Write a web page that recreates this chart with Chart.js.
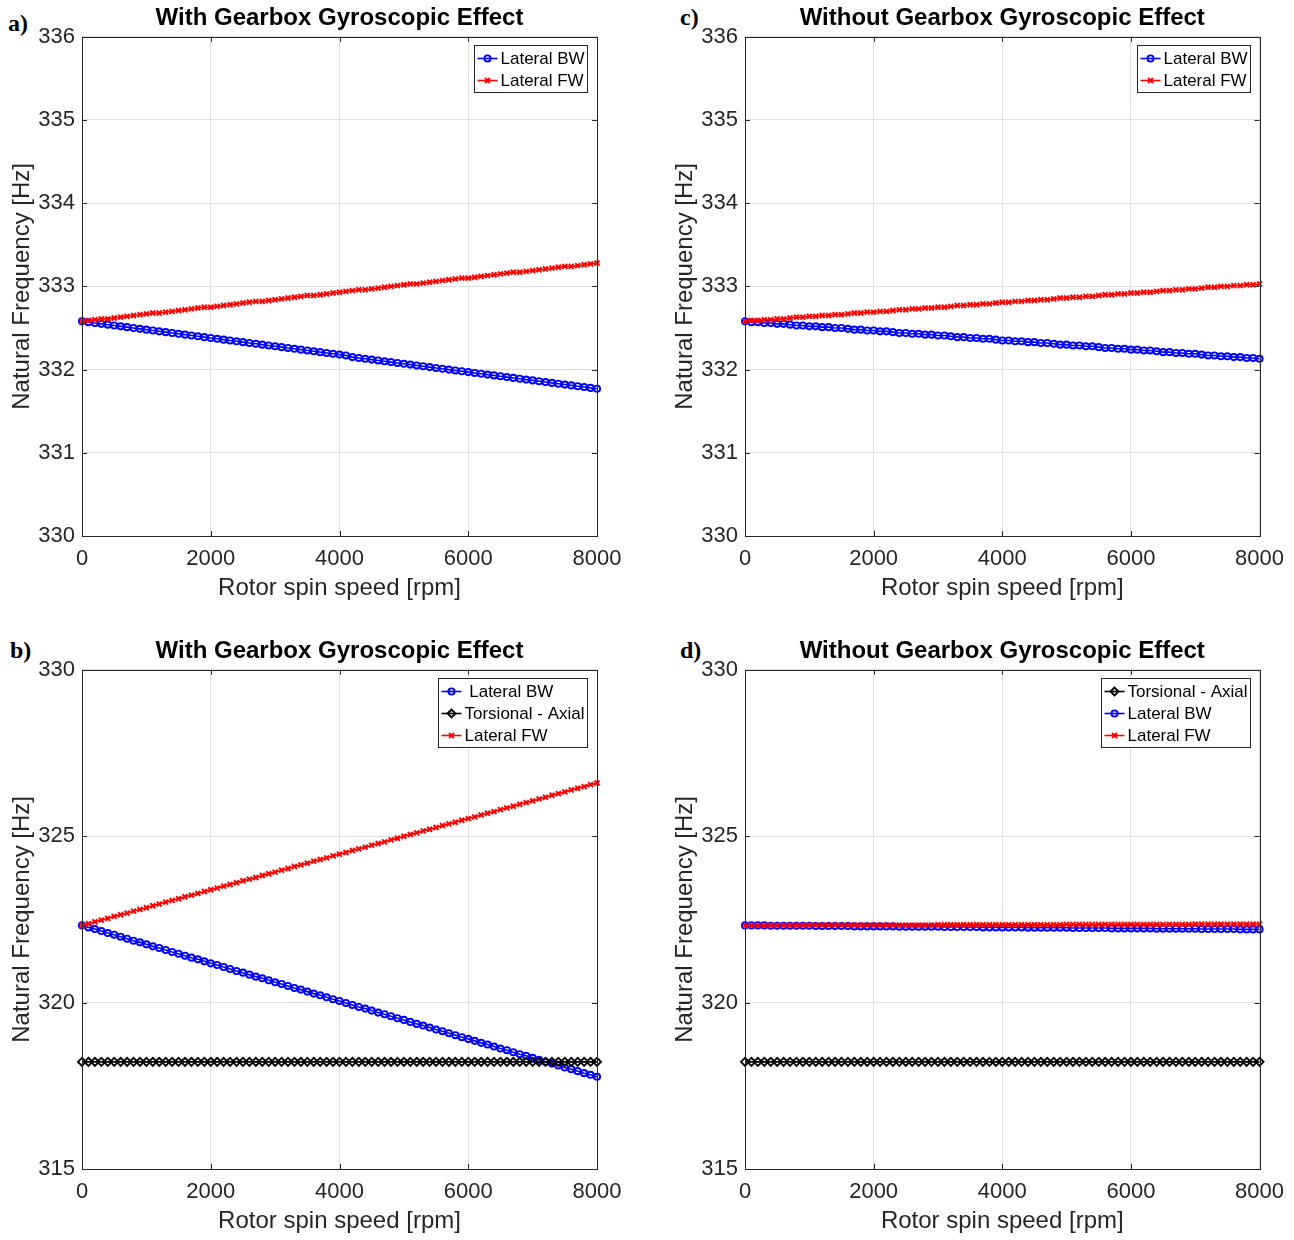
<!DOCTYPE html>
<html>
<head>
<meta charset="utf-8">
<script src="https://cdn.jsdelivr.net/npm/chart.js@4.4.1/dist/chart.umd.min.js"></script>
<style>
    body { margin: 0; background: #fff; width: 1294px; height: 1240px; position: relative; overflow: hidden; }
    canvas { position: absolute; }
    .tag { position: absolute; font-family: "Liberation Serif", "Times New Roman", serif; font-weight: bold; font-size: 24px; color: #000; line-height: 1; }
</style>
</head>
<body>
<div class="tag" style="left:8px;top:11px">a)</div>
<div class="tag" style="left:680px;top:5px">c)</div>
<div class="tag" style="left:10px;top:638px">b)</div>
<div class="tag" style="left:680px;top:638px">d)</div>

<canvas id="chartA" width="647" height="603" style="left:0;top:0"></canvas>
<canvas id="chartC" width="631" height="603" style="left:663px;top:0"></canvas>
<canvas id="chartB" width="647" height="603" style="left:0;top:633px"></canvas>
<canvas id="chartD" width="631" height="603" style="left:663px;top:633px"></canvas>

<script>
(function () {
    'use strict';

    // rotor spin speed [rpm], sampled every 100 rpm
    var rpm = [
        0, 100, 200, 300, 400, 500, 600, 700, 800, 900,
        1000, 1100, 1200, 1300, 1400, 1500, 1600, 1700, 1800, 1900,
        2000, 2100, 2200, 2300, 2400, 2500, 2600, 2700, 2800, 2900,
        3000, 3100, 3200, 3300, 3400, 3500, 3600, 3700, 3800, 3900,
        4000, 4100, 4200, 4300, 4400, 4500, 4600, 4700, 4800, 4900,
        5000, 5100, 5200, 5300, 5400, 5500, 5600, 5700, 5800, 5900,
        6000, 6100, 6200, 6300, 6400, 6500, 6600, 6700, 6800, 6900,
        7000, 7100, 7200, 7300, 7400, 7500, 7600, 7700, 7800, 7900,
        8000
    ];

    var xTicks = [0, 2000, 4000, 6000, 8000];
    var yTicksTop = [330, 331, 332, 333, 334, 335, 336];
    var yTicksBottom = [315, 320, 325, 330];

    // a) with gearbox gyroscopic effect, first mode pair
    var aLateralBW = [
        332.58, 332.57, 332.56, 332.55, 332.54, 332.53, 332.52, 332.51, 332.50, 332.49,
        332.48, 332.47, 332.46, 332.45, 332.44, 332.43, 332.42, 332.41, 332.40, 332.39,
        332.38, 332.37, 332.36, 332.35, 332.34, 332.33, 332.32, 332.31, 332.30, 332.29,
        332.28, 332.27, 332.26, 332.25, 332.24, 332.23, 332.22, 332.21, 332.20, 332.19,
        332.18, 332.17, 332.15, 332.14, 332.13, 332.12, 332.11, 332.10, 332.09, 332.08,
        332.07, 332.06, 332.05, 332.04, 332.03, 332.02, 332.01, 332.00, 331.99, 331.98,
        331.97, 331.96, 331.95, 331.94, 331.93, 331.92, 331.91, 331.90, 331.89, 331.88,
        331.87, 331.86, 331.85, 331.84, 331.83, 331.82, 331.81, 331.80, 331.79, 331.78,
        331.77
    ];
    var aLateralFW = [
        332.58, 332.59, 332.60, 332.61, 332.61, 332.62, 332.63, 332.64, 332.65, 332.66,
        332.67, 332.68, 332.68, 332.69, 332.70, 332.71, 332.72, 332.73, 332.74, 332.75,
        332.75, 332.76, 332.77, 332.78, 332.79, 332.80, 332.81, 332.82, 332.82, 332.83,
        332.84, 332.85, 332.86, 332.87, 332.88, 332.89, 332.89, 332.90, 332.91, 332.92,
        332.93, 332.94, 332.95, 332.96, 332.96, 332.97, 332.98, 332.99, 333.00, 333.01,
        333.02, 333.03, 333.03, 333.04, 333.05, 333.06, 333.07, 333.08, 333.09, 333.10,
        333.10, 333.11, 333.12, 333.13, 333.14, 333.15, 333.16, 333.17, 333.17, 333.18,
        333.19, 333.20, 333.21, 333.22, 333.23, 333.24, 333.24, 333.25, 333.26, 333.27,
        333.28
    ];

    // c) without gearbox gyroscopic effect, first mode pair
    var cLateralBW = [
        332.58, 332.57, 332.57, 332.56, 332.56, 332.55, 332.55, 332.54, 332.53, 332.53,
        332.52, 332.52, 332.51, 332.51, 332.50, 332.50, 332.49, 332.48, 332.48, 332.47,
        332.47, 332.46, 332.46, 332.45, 332.44, 332.44, 332.43, 332.43, 332.42, 332.42,
        332.41, 332.41, 332.40, 332.39, 332.39, 332.38, 332.38, 332.37, 332.37, 332.36,
        332.35, 332.35, 332.34, 332.34, 332.33, 332.33, 332.32, 332.32, 332.31, 332.30,
        332.30, 332.29, 332.29, 332.28, 332.28, 332.27, 332.26, 332.26, 332.25, 332.25,
        332.24, 332.24, 332.23, 332.23, 332.22, 332.21, 332.21, 332.20, 332.20, 332.19,
        332.19, 332.18, 332.17, 332.17, 332.16, 332.16, 332.15, 332.15, 332.14, 332.14,
        332.13
    ];
    var cLateralFW = [
        332.58, 332.59, 332.59, 332.60, 332.60, 332.61, 332.61, 332.62, 332.63, 332.63,
        332.64, 332.64, 332.65, 332.65, 332.66, 332.66, 332.67, 332.68, 332.68, 332.69,
        332.69, 332.70, 332.70, 332.71, 332.72, 332.72, 332.73, 332.73, 332.74, 332.74,
        332.75, 332.75, 332.76, 332.77, 332.77, 332.78, 332.78, 332.79, 332.79, 332.80,
        332.81, 332.81, 332.82, 332.82, 332.83, 332.83, 332.84, 332.84, 332.85, 332.86,
        332.86, 332.87, 332.87, 332.88, 332.88, 332.89, 332.90, 332.90, 332.91, 332.91,
        332.92, 332.92, 332.93, 332.93, 332.94, 332.95, 332.95, 332.96, 332.96, 332.97,
        332.97, 332.98, 332.99, 332.99, 333.00, 333.00, 333.01, 333.01, 333.02, 333.02,
        333.03
    ];

    // b) with gearbox gyroscopic effect, second mode pair + torsional-axial
    var bLateralBW = [
        322.32, 322.26, 322.21, 322.15, 322.09, 322.04, 321.98, 321.92, 321.86, 321.81,
        321.75, 321.69, 321.64, 321.58, 321.52, 321.47, 321.41, 321.35, 321.30, 321.24,
        321.18, 321.13, 321.07, 321.01, 320.95, 320.90, 320.84, 320.78, 320.73, 320.67,
        320.61, 320.56, 320.50, 320.44, 320.39, 320.33, 320.27, 320.22, 320.16, 320.10,
        320.05, 319.99, 319.93, 319.87, 319.82, 319.76, 319.70, 319.65, 319.59, 319.53,
        319.48, 319.42, 319.36, 319.31, 319.25, 319.19, 319.14, 319.08, 319.02, 318.96,
        318.91, 318.85, 318.79, 318.74, 318.68, 318.62, 318.57, 318.51, 318.45, 318.40,
        318.34, 318.28, 318.22, 318.17, 318.11, 318.05, 318.00, 317.94, 317.88, 317.83,
        317.77
    ];
    var bLateralFW = [
        322.32, 322.37, 322.43, 322.48, 322.53, 322.59, 322.64, 322.69, 322.75, 322.80,
        322.85, 322.91, 322.96, 323.02, 323.07, 323.12, 323.18, 323.23, 323.28, 323.34,
        323.39, 323.44, 323.50, 323.55, 323.60, 323.66, 323.71, 323.76, 323.82, 323.87,
        323.92, 323.98, 324.03, 324.09, 324.14, 324.19, 324.25, 324.30, 324.35, 324.41,
        324.46, 324.51, 324.57, 324.62, 324.67, 324.73, 324.78, 324.83, 324.89, 324.94,
        325.00, 325.05, 325.10, 325.16, 325.21, 325.26, 325.32, 325.37, 325.42, 325.48,
        325.53, 325.58, 325.64, 325.69, 325.74, 325.80, 325.85, 325.90, 325.96, 326.01,
        326.06, 326.12, 326.17, 326.23, 326.28, 326.33, 326.39, 326.44, 326.49, 326.55,
        326.60
    ];
    var bTorsionalAxial = [
        318.22, 318.22, 318.22, 318.22, 318.22, 318.22, 318.22, 318.22, 318.22, 318.22,
        318.22, 318.22, 318.22, 318.22, 318.22, 318.22, 318.22, 318.22, 318.22, 318.22,
        318.22, 318.22, 318.22, 318.22, 318.22, 318.22, 318.22, 318.22, 318.22, 318.22,
        318.22, 318.22, 318.22, 318.22, 318.22, 318.22, 318.22, 318.22, 318.22, 318.22,
        318.22, 318.22, 318.22, 318.22, 318.22, 318.22, 318.22, 318.22, 318.22, 318.22,
        318.22, 318.22, 318.22, 318.22, 318.22, 318.22, 318.22, 318.22, 318.22, 318.22,
        318.22, 318.22, 318.22, 318.22, 318.22, 318.22, 318.22, 318.22, 318.22, 318.22,
        318.22, 318.22, 318.22, 318.22, 318.22, 318.22, 318.22, 318.22, 318.22, 318.22,
        318.22
    ];

    // d) without gearbox gyroscopic effect, second mode pair + torsional-axial
    var dTorsionalAxial = [
        318.22, 318.22, 318.22, 318.22, 318.22, 318.22, 318.22, 318.22, 318.22, 318.22,
        318.22, 318.22, 318.22, 318.22, 318.22, 318.22, 318.22, 318.22, 318.22, 318.22,
        318.22, 318.22, 318.22, 318.22, 318.22, 318.22, 318.22, 318.22, 318.22, 318.22,
        318.22, 318.22, 318.22, 318.22, 318.22, 318.22, 318.22, 318.22, 318.22, 318.22,
        318.22, 318.22, 318.22, 318.22, 318.22, 318.22, 318.22, 318.22, 318.22, 318.22,
        318.22, 318.22, 318.22, 318.22, 318.22, 318.22, 318.22, 318.22, 318.22, 318.22,
        318.22, 318.22, 318.22, 318.22, 318.22, 318.22, 318.22, 318.22, 318.22, 318.22,
        318.22, 318.22, 318.22, 318.22, 318.22, 318.22, 318.22, 318.22, 318.22, 318.22,
        318.22
    ];
    var dLateralBW = [
        322.32, 322.32, 322.32, 322.32, 322.31, 322.31, 322.31, 322.31, 322.31, 322.31,
        322.31, 322.30, 322.30, 322.30, 322.30, 322.30, 322.30, 322.29, 322.29, 322.29,
        322.29, 322.29, 322.29, 322.29, 322.28, 322.28, 322.28, 322.28, 322.28, 322.28,
        322.28, 322.27, 322.27, 322.27, 322.27, 322.27, 322.27, 322.26, 322.26, 322.26,
        322.26, 322.26, 322.26, 322.26, 322.25, 322.25, 322.25, 322.25, 322.25, 322.25,
        322.25, 322.24, 322.24, 322.24, 322.24, 322.24, 322.24, 322.23, 322.23, 322.23,
        322.23, 322.23, 322.23, 322.23, 322.22, 322.22, 322.22, 322.22, 322.22, 322.22,
        322.22, 322.21, 322.21, 322.21, 322.21, 322.21, 322.21, 322.20, 322.20, 322.20,
        322.20
    ];
    var dLateralFW = [
        322.32, 322.32, 322.32, 322.32, 322.32, 322.32, 322.32, 322.32, 322.32, 322.32,
        322.33, 322.33, 322.33, 322.33, 322.33, 322.33, 322.33, 322.33, 322.33, 322.33,
        322.33, 322.33, 322.33, 322.33, 322.33, 322.33, 322.33, 322.33, 322.33, 322.33,
        322.34, 322.34, 322.34, 322.34, 322.34, 322.34, 322.34, 322.34, 322.34, 322.34,
        322.34, 322.34, 322.34, 322.34, 322.34, 322.34, 322.34, 322.34, 322.34, 322.34,
        322.35, 322.35, 322.35, 322.35, 322.35, 322.35, 322.35, 322.35, 322.35, 322.35,
        322.35, 322.35, 322.35, 322.35, 322.35, 322.35, 322.35, 322.35, 322.35, 322.35,
        322.36, 322.36, 322.36, 322.36, 322.36, 322.36, 322.36, 322.36, 322.36, 322.36,
        322.36
    ];

    var FONT = '"Liberation Sans", Arial, Helvetica, sans-serif';
    var AXIS = '#262626';
    var GRID = '#dfdfdf';

    // MATLAB-like marker look for each mode family
    var MARKERS = {
        bw:  { color: '#0000ff', pointStyle: 'circle',   radius: 3.1, weight: 1.9 },
        fw:  { color: '#ff0000', pointStyle: 'crossRot', radius: 3.5, weight: 2.0 },
        tor: { color: '#000000', pointStyle: 'rectRot',  radius: 4.0, weight: 1.9 }
    };

    function makeSeries(label, values, kind) {
        var m = MARKERS[kind];
        var pts = [];
        for (var i = 0; i < rpm.length; i++) {
            pts.push({ x: rpm[i], y: values[i] });
        }
        return {
            label: label,
            data: pts,
            borderColor: m.color,
            backgroundColor: 'transparent',
            borderWidth: 1.6,
            pointStyle: m.pointStyle,
            pointRadius: m.radius,
            pointHoverRadius: m.radius,
            pointBorderColor: m.color,
            pointBackgroundColor: 'transparent',
            pointBorderWidth: m.weight,
            tension: 0,
            clip: false
        };
    }

    // box around the plot area + inward tick marks + boxed legend in the top-right corner
    var matlabAxes = {
        id: 'matlabAxes',
        afterDraw: function (chart) {
            var ctx = chart.ctx;
            var a = chart.chartArea;
            var xs = chart.scales.x;
            var ys = chart.scales.y;
            var tl = 5;

            ctx.save();
            ctx.strokeStyle = AXIS;
            ctx.lineWidth = 1;
            ctx.beginPath();
            xs.ticks.forEach(function (t) {
                var px = Math.round(xs.getPixelForValue(t.value)) + 0.5;
                ctx.moveTo(px, a.bottom); ctx.lineTo(px, a.bottom - tl);
                ctx.moveTo(px, a.top); ctx.lineTo(px, a.top + tl);
            });
            ys.ticks.forEach(function (t) {
                var py = Math.round(ys.getPixelForValue(t.value)) + 0.5;
                ctx.moveTo(a.left, py); ctx.lineTo(a.left + tl, py);
                ctx.moveTo(a.right, py); ctx.lineTo(a.right - tl, py);
            });
            ctx.stroke();
            ctx.strokeRect(Math.round(a.left) + 0.5, Math.round(a.top) + 0.5,
                Math.round(a.right - a.left), Math.round(a.bottom - a.top));

            // legend
            var ds = chart.data.datasets;
            var rowH = 22;
            ctx.font = '17px ' + FONT;
            var maxW = 0;
            ds.forEach(function (d) { maxW = Math.max(maxW, ctx.measureText(d.label).width); });
            var boxW = Math.round(26 + maxW + 3);
            var boxH = rowH * ds.length + 3;
            var bx = Math.round(a.right - 10 - boxW) + 0.5;
            var by = Math.round(a.top + 8) + 0.5;
            ctx.fillStyle = '#ffffff';
            ctx.fillRect(bx, by, boxW, boxH);
            ctx.strokeStyle = AXIS;
            ctx.strokeRect(bx, by, boxW, boxH);

            ds.forEach(function (d, i) {
                var cy = by + 13 + i * rowH;
                ctx.strokeStyle = d.borderColor;
                ctx.lineWidth = 1.6;
                ctx.beginPath();
                ctx.moveTo(bx + 3, cy);
                ctx.lineTo(bx + 23, cy);
                ctx.stroke();
                ctx.fillStyle = 'transparent';
                ctx.lineWidth = d.pointBorderWidth;
                Chart.helpers.drawPoint(ctx, {
                    pointStyle: d.pointStyle,
                    radius: d.pointRadius,
                    rotation: 0,
                    borderWidth: d.pointBorderWidth
                }, bx + 13, cy);
                ctx.fillStyle = '#000000';
                ctx.textBaseline = 'middle';
                ctx.textAlign = 'left';
                ctx.fillText(d.label, bx + 26, cy + 1);
            });
            ctx.restore();
        }
    };

    function drawPanel(canvasId, title, datasets, yMin, yMax, yStep, padRight) {
        var n = datasets.length;
        datasets.forEach(function (d, i) { d.order = n - i; });

        return new Chart(document.getElementById(canvasId), {
            type: 'line',
            data: { datasets: datasets },
            plugins: [matlabAxes],
            options: {
                responsive: false,
                animation: false,
                events: [],
                layout: { padding: { left: 8, right: padRight, top: 0, bottom: 0 } },
                plugins: {
                    legend: { display: false },
                    tooltip: { enabled: false },
                    title: {
                        display: true,
                        text: title,
                        fullSize: false,
                        color: '#000000',
                        font: { family: FONT, size: 24, weight: 'bold' },
                        padding: { top: 4, bottom: 4 }
                    }
                },
                scales: {
                    x: {
                        type: 'linear',
                        min: 0,
                        max: 8000,
                        afterBuildTicks: function (s) {
                            s.ticks = xTicks.map(function (v) { return { value: v }; });
                        },
                        afterFit: function (s) { s.height = 67; },
                        grid: { color: GRID, drawTicks: false },
                        border: { display: false },
                        ticks: {
                            color: AXIS,
                            padding: 10,
                            maxRotation: 0,
                            font: { family: FONT, size: 22 },
                            callback: function (v) { return String(v); }
                        },
                        title: {
                            display: true,
                            text: 'Rotor spin speed [rpm]',
                            color: AXIS,
                            padding: 0,
                            font: { family: FONT, size: 24 }
                        }
                    },
                    y: {
                        type: 'linear',
                        min: yMin,
                        max: yMax,
                        ticks: {
                            stepSize: yStep,
                            color: AXIS,
                            padding: 7,
                            font: { family: FONT, size: 22 },
                            callback: function (v) { return String(v); }
                        },
                        afterFit: function (s) { s.width = 74; },
                        grid: { color: GRID, drawTicks: false },
                        border: { display: false },
                        title: {
                            display: true,
                            text: 'Natural Frequency [Hz]',
                            color: AXIS,
                            padding: 0,
                            font: { family: FONT, size: 24 }
                        }
                    }
                }
            }
        });
    }

    drawPanel('chartA', 'With Gearbox Gyroscopic Effect', [
        makeSeries('Lateral BW', aLateralBW, 'bw'),
        makeSeries('Lateral FW', aLateralFW, 'fw')
    ], yTicksTop[0], yTicksTop[yTicksTop.length - 1], 1, 50);

    drawPanel('chartC', 'Without Gearbox Gyroscopic Effect', [
        makeSeries('Lateral BW', cLateralBW, 'bw'),
        makeSeries('Lateral FW', cLateralFW, 'fw')
    ], yTicksTop[0], yTicksTop[yTicksTop.length - 1], 1, 34);

    drawPanel('chartB', 'With Gearbox Gyroscopic Effect', [
        makeSeries(' Lateral BW', bLateralBW, 'bw'),
        makeSeries('Torsional - Axial', bTorsionalAxial, 'tor'),
        makeSeries('Lateral FW', bLateralFW, 'fw')
    ], yTicksBottom[0], yTicksBottom[yTicksBottom.length - 1], 5, 50);

    drawPanel('chartD', 'Without Gearbox Gyroscopic Effect', [
        makeSeries('Torsional - Axial', dTorsionalAxial, 'tor'),
        makeSeries('Lateral BW', dLateralBW, 'bw'),
        makeSeries('Lateral FW', dLateralFW, 'fw')
    ], yTicksBottom[0], yTicksBottom[yTicksBottom.length - 1], 5, 34);
})();
</script>
</body>
</html>
